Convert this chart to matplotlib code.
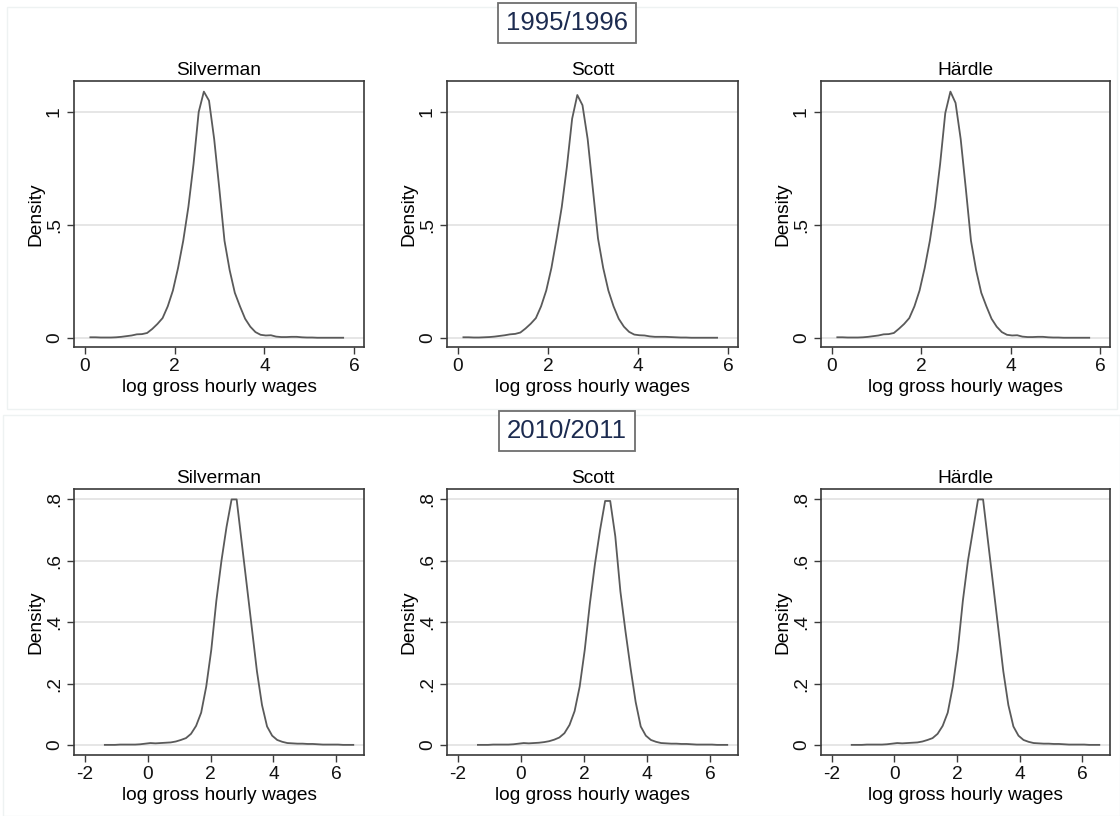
import matplotlib
matplotlib.use("Agg")
import matplotlib.pyplot as plt
from matplotlib.patches import Rectangle

plt.rcParams['font.family'] = ['Liberation Sans', 'DejaVu Sans']

# kernel density estimates, log gross hourly wages
x95 = [0.12, 0.235, 0.35, 0.465, 0.58, 0.695, 0.81, 0.925, 1.04, 1.155,
       1.27, 1.385, 1.5, 1.615, 1.73, 1.845, 1.96, 2.075, 2.19, 2.305,
       2.42, 2.535, 2.65, 2.765, 2.88, 2.995, 3.11, 3.225, 3.34, 3.455,
       3.57, 3.685, 3.8, 3.915, 4.03, 4.145, 4.26, 4.375, 4.49, 4.605,
       4.72, 4.835, 4.95, 5.065, 5.18, 5.295, 5.41, 5.525, 5.64, 5.755]
sil95 = [0.003, 0.003, 0.002, 0.002, 0.002, 0.003, 0.005, 0.008, 0.011, 0.016,
         0.017, 0.022, 0.04, 0.062, 0.088, 0.14, 0.21, 0.31, 0.43, 0.58,
         0.77, 1.0, 1.09, 1.05, 0.88, 0.66, 0.43, 0.3, 0.2, 0.14,
         0.085, 0.05, 0.026, 0.014, 0.011, 0.012, 0.006, 0.004, 0.004, 0.005,
         0.005, 0.003, 0.002, 0.002, 0.001, 0.001, 0.001, 0.001, 0.001, 0.001]
sco95 = [0.003, 0.003, 0.002, 0.002, 0.003, 0.004, 0.006, 0.009, 0.012, 0.016,
         0.018, 0.024, 0.042, 0.063, 0.088, 0.14, 0.21, 0.31, 0.44, 0.58,
         0.76, 0.97, 1.075, 1.03, 0.88, 0.66, 0.44, 0.31, 0.21, 0.14,
         0.085, 0.05, 0.027, 0.015, 0.012, 0.011, 0.007, 0.005, 0.005, 0.005,
         0.004, 0.003, 0.002, 0.002, 0.001, 0.001, 0.001, 0.001, 0.001, 0.001]
har95 = [0.003, 0.003, 0.002, 0.002, 0.002, 0.003, 0.005, 0.008, 0.011, 0.016,
         0.017, 0.022, 0.041, 0.062, 0.088, 0.14, 0.21, 0.31, 0.43, 0.58,
         0.77, 0.995, 1.09, 1.04, 0.88, 0.66, 0.43, 0.3, 0.2, 0.14,
         0.085, 0.05, 0.026, 0.014, 0.011, 0.012, 0.006, 0.004, 0.004, 0.005,
         0.005, 0.003, 0.002, 0.002, 0.001, 0.001, 0.001, 0.001, 0.001, 0.001]

x10 = [-1.36, -1.199, -1.038, -0.876, -0.715, -0.554, -0.393, -0.232, -0.07, 0.091,
       0.252, 0.413, 0.574, 0.736, 0.897, 1.058, 1.219, 1.38, 1.542, 1.703,
       1.864, 2.025, 2.186, 2.348, 2.509, 2.67, 2.831, 2.992, 3.154, 3.315,
       3.476, 3.637, 3.798, 3.96, 4.121, 4.282, 4.443, 4.604, 4.766, 4.927,
       5.088, 5.249, 5.41, 5.572, 5.733, 5.894, 6.055, 6.216, 6.378, 6.539]
sil10 = [0.0, 0.0, 0.0, 0.001, 0.001, 0.001, 0.001, 0.002, 0.004, 0.006,
         0.005, 0.006, 0.007, 0.008, 0.011, 0.016, 0.022, 0.036, 0.062, 0.105,
         0.19, 0.31, 0.47, 0.6, 0.71, 0.80, 0.80, 0.66, 0.52, 0.38,
         0.24, 0.13, 0.06, 0.03, 0.016, 0.01, 0.006, 0.005, 0.004, 0.004,
         0.003, 0.003, 0.002, 0.001, 0.001, 0.001, 0.001, 0.0, 0.0, 0.0]
sco10 = [0.0, 0.0, 0.0, 0.001, 0.001, 0.001, 0.001, 0.002, 0.004, 0.006,
         0.005, 0.006, 0.007, 0.009, 0.012, 0.017, 0.024, 0.038, 0.065, 0.11,
         0.19, 0.31, 0.46, 0.59, 0.70, 0.795, 0.795, 0.68, 0.5, 0.37,
         0.25, 0.14, 0.06, 0.03, 0.016, 0.01, 0.006, 0.005, 0.004, 0.004,
         0.003, 0.003, 0.002, 0.001, 0.001, 0.001, 0.001, 0.0, 0.0, 0.0]
har10 = [0.0, 0.0, 0.0, 0.001, 0.001, 0.001, 0.001, 0.002, 0.004, 0.006,
         0.005, 0.006, 0.007, 0.008, 0.011, 0.016, 0.022, 0.036, 0.062, 0.105,
         0.19, 0.31, 0.47, 0.6, 0.7, 0.80, 0.80, 0.66, 0.52, 0.38,
         0.24, 0.13, 0.06, 0.03, 0.016, 0.01, 0.006, 0.005, 0.004, 0.004,
         0.003, 0.003, 0.002, 0.001, 0.001, 0.001, 0.001, 0.0, 0.0, 0.0]

methods = ['Silverman', 'Scott', 'Härdle']
years = ['1995/1996', '2010/2011']
curves = [[sil95, sco95, har95], [sil10, sco10, har10]]
xgrids = [x95, x10]
xticks = [[0, 2, 4, 6], [-2, 0, 2, 4, 6]]
xtlab = [['0', '2', '4', '6'], ['-2', '0', '2', '4', '6']]
yticks = [[0, 0.5, 1], [0, 0.2, 0.4, 0.6, 0.8]]
ytlab = [['0', '.5', '1'], ['0', '.2', '.4', '.6', '.8']]
xlims = [(-0.245, 6.22), (-2.34, 6.88)]
ylims = [(-0.04, 1.137), (-0.033, 0.834)]

W, H = 1120, 816
fig = plt.figure(figsize=(W / 100, H / 100), dpi=100)

# faint group frames
for (x0, y0, x1, y1) in [(7, 7, 1117, 409), (3, 415, 1120, 816)]:
    fig.add_artist(Rectangle((x0 / W, 1 - y1 / H), (x1 - x0) / W, (y1 - y0) / H,
                             transform=fig.transFigure, fill=False,
                             edgecolor='#eef2f2', lw=1))

cols = [(74, 364), (447, 738), (821, 1110)]
rows = [(81, 347), (489, 755)]
year_y = [23, 431]
fs = 13.8

for r in range(2):
    fig.text(567 / W, 1 - year_y[r] / H, years[r], ha='center', va='center',
             fontsize=18.5, color='#1c2b50',
             bbox=dict(boxstyle='square,pad=0.3', fc='white', ec='#6e6e6e', lw=1.3))
    top, bot = rows[r]
    for c in range(3):
        left, right = cols[c]
        ax = fig.add_axes([left / W, 1 - bot / H, (right - left) / W, (bot - top) / H])
        ax.plot(xgrids[r], curves[r][c], color='#5a5a5a', lw=1.3)
        ax.set_xlim(*xlims[r])
        ax.set_ylim(*ylims[r])
        ax.set_xticks(xticks[r])
        ax.set_xticklabels(xtlab[r])
        ax.set_yticks(yticks[r])
        ax.set_yticklabels(ytlab[r], rotation=90, va='center')
        ax.grid(axis='y', color='#e2e2e2', lw=1.2)
        ax.set_axisbelow(True)
        for s in ax.spines.values():
            s.set_color('#3a3a3a')
            s.set_linewidth(1.2)
        ax.tick_params(direction='out', length=5, width=1, color='#3a3a3a',
                       labelsize=fs, labelcolor='#111111', pad=3)
        ax.set_title(methods[c], fontsize=fs, pad=4)
        ax.set_xlabel('log gross hourly wages', fontsize=fs, labelpad=3)
        ax.set_ylabel('Density', fontsize=fs, labelpad=1)

fig.savefig('out.png', dpi=100, facecolor='white')
